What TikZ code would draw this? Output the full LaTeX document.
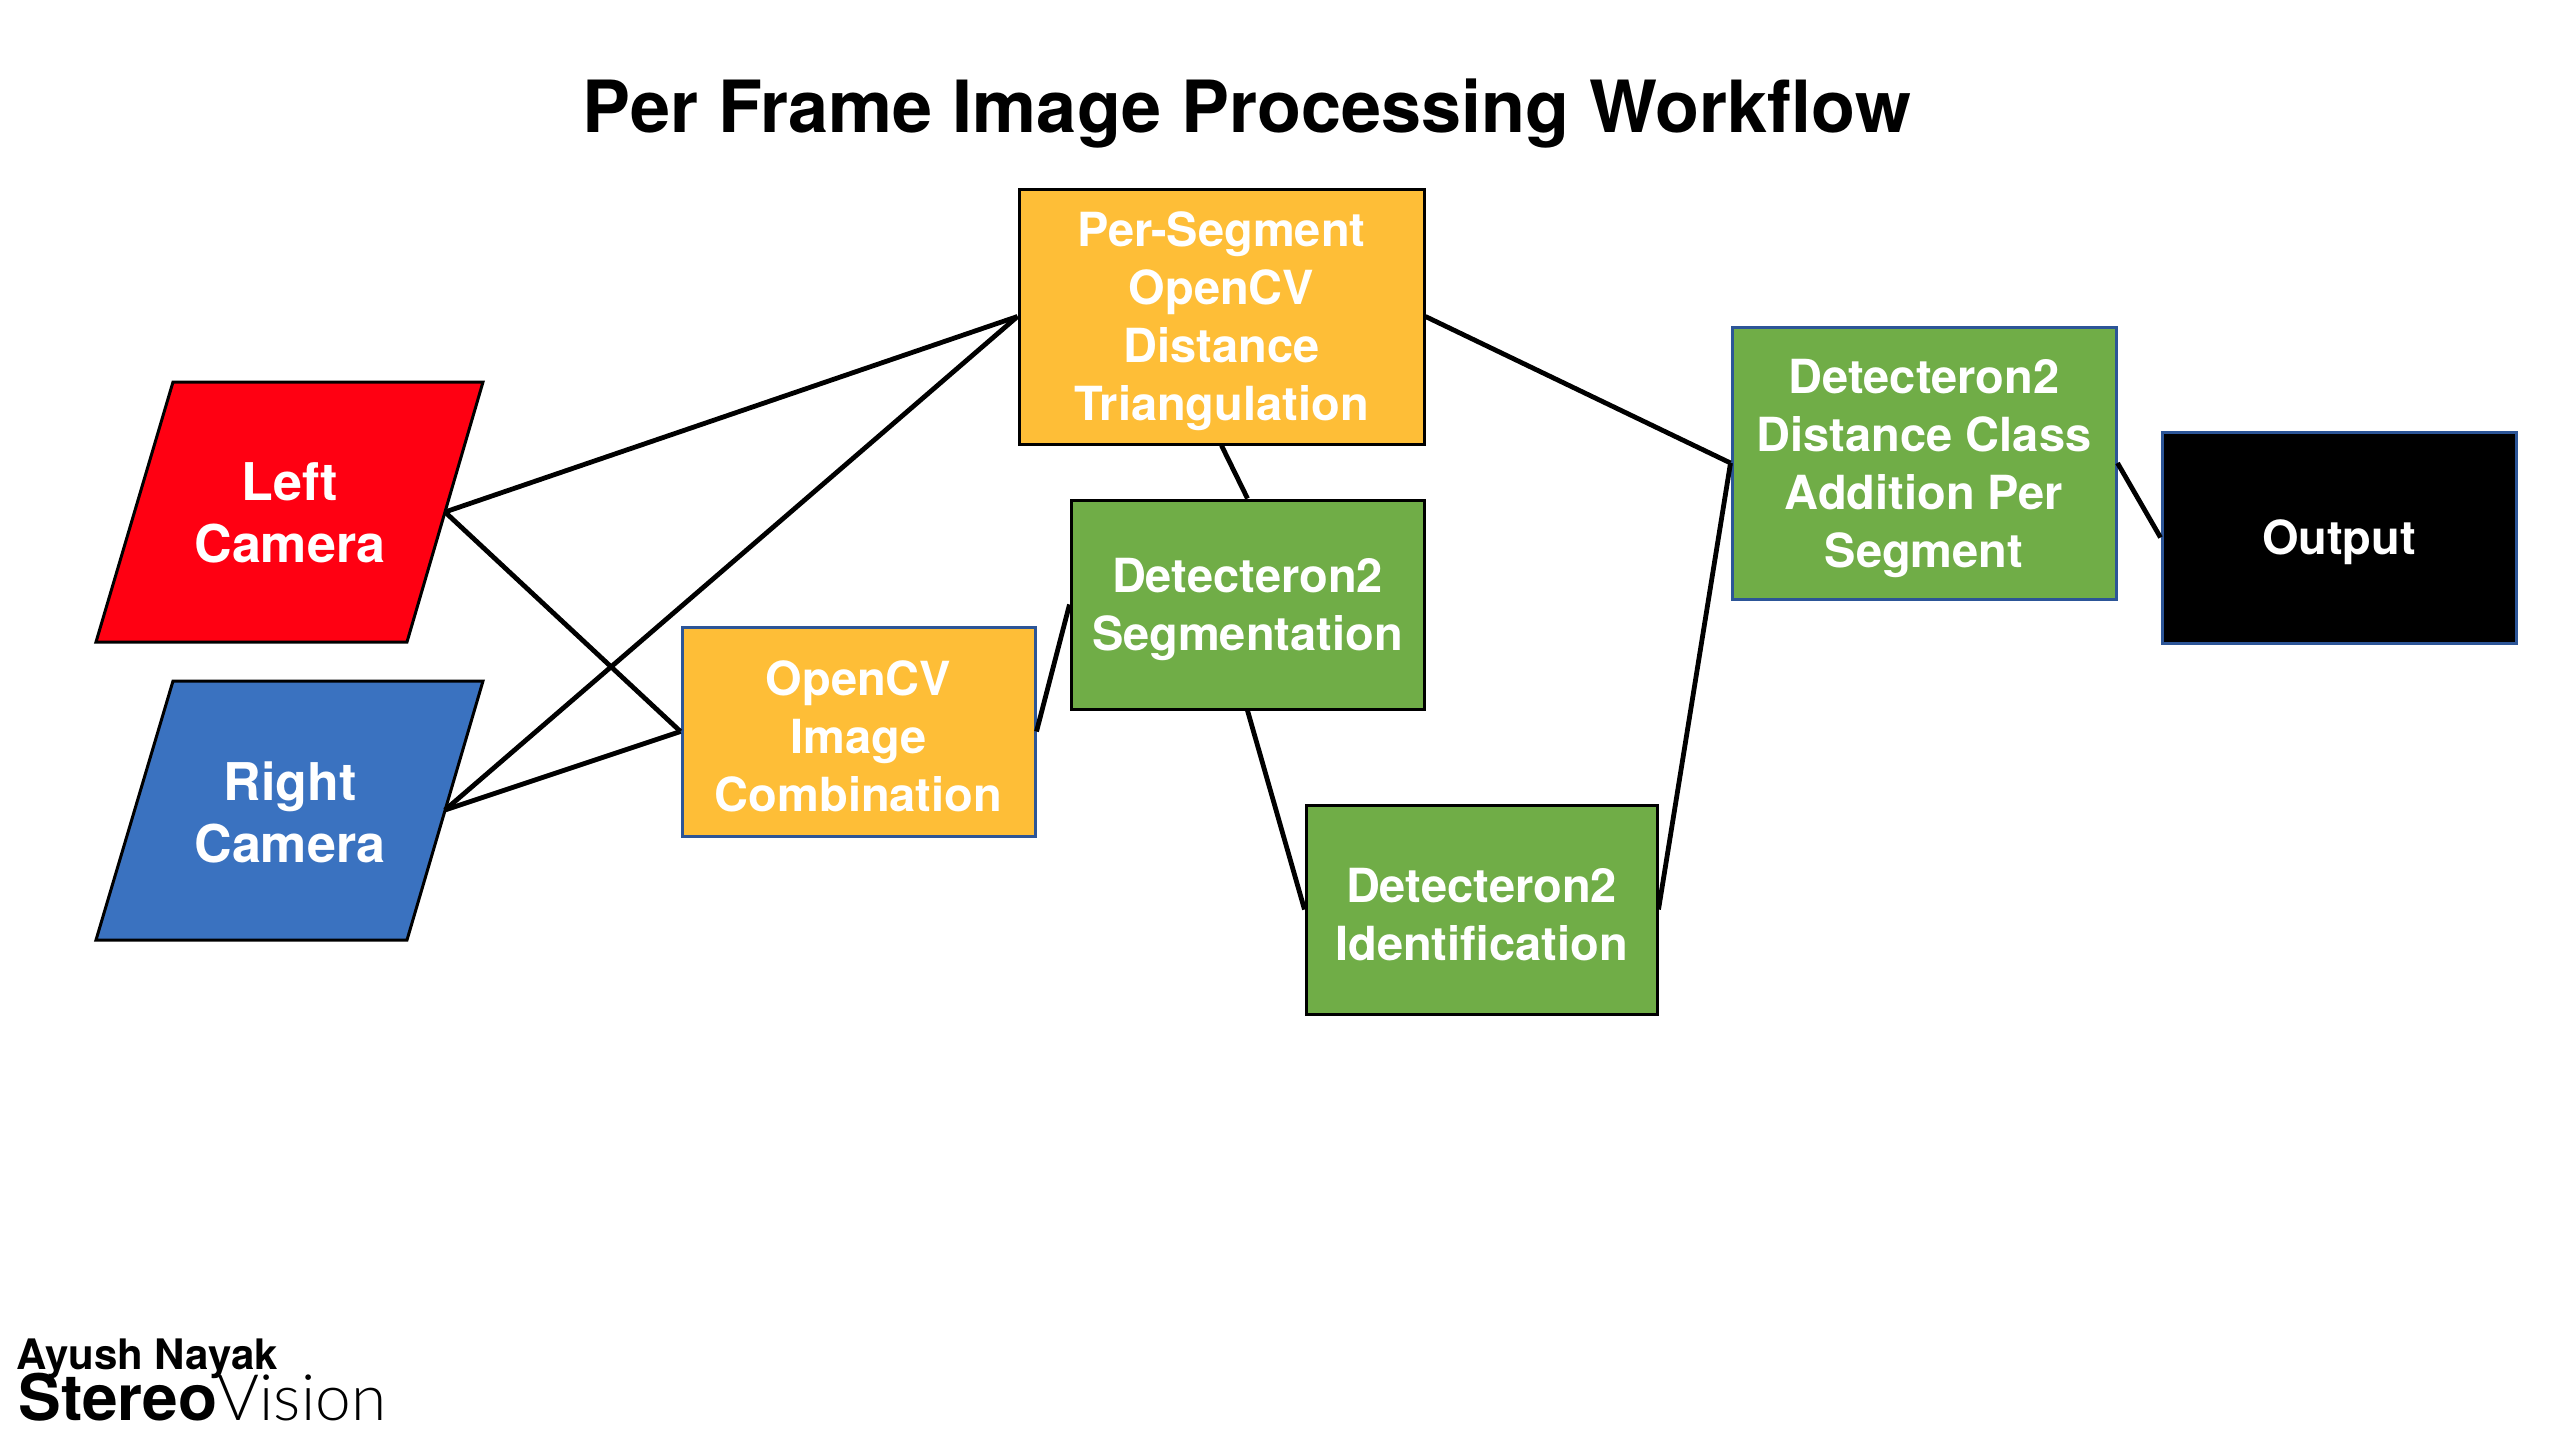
\documentclass[tikz,border=0pt]{standalone}
\usepackage{fontspec}
\setmainfont{TeX Gyre Heros}
\IfFontExistsTF{Lato Light}{\newfontfamily\thinfont{Lato Light}}{\newfontfamily\thinfont{TeX Gyre Heros}}
\definecolor{camred}{HTML}{FF0012}
\definecolor{camblue}{HTML}{3A72C0}
\definecolor{boxorange}{HTML}{FEBE37}
\definecolor{boxgreen}{HTML}{70AD47}
\definecolor{edgeblue}{HTML}{2C5597}
\newcommand\toppad{\rule{0pt}{22.5pt}}
\tikzset{
  sz/.style 2 args={minimum width=#1*0.5pt, minimum height=#2*0.5pt},
  stagebox/.style={draw, line width=1.5pt, inner sep=0pt, align=center, text=white,
    font=\bfseries\fontsize{23.5}{29}\selectfont},
  camtext/.style={align=center, text=white, inner sep=0pt,
    font=\bfseries\fontsize{26}{31}\selectfont},
  cambox/.style={draw=black, line width=1.5pt, line join=miter},
  link/.style={draw=black, line width=2.4pt}
}
\begin{document}
\begin{tikzpicture}[x=0.5pt,y=-0.5pt]
\useasboundingbox (0,0) rectangle (2560,1440);

% title
\node[anchor=base, inner sep=0pt, font=\bfseries\fontsize{36}{43}\selectfont] (title) at (1247,132) {Per Frame Image Processing Workflow};

% cameras
\path[cambox, fill=camred] (173,382) -- (483,382) -- (407,642) -- (96,642) -- cycle;
\node[camtext] (left) at (290,513) {Left\\Camera};
\coordinate (lce) at (445,512);
\path[cambox, fill=camblue] (173,681) -- (483,681) -- (407,940) -- (96,940) -- cycle;
\node[camtext] (right) at (290,812) {Right\\Camera};
\coordinate (rce) at (445,810);

% processing boxes
\node[stagebox, fill=boxorange, draw=black, sz={405}{255}] (ps) at (1221.5,316.5) {\toppad Per-Segment\\OpenCV\\Distance\\Triangulation};
\node[stagebox, fill=boxgreen, draw=black, sz={353}{209}] (seg) at (1247.5,604.5) {\toppad Detecteron2\\Segmentation};
\node[stagebox, fill=boxgreen, draw=black, sz={351}{209}] (id) at (1481.5,909.5) {\toppad Detecteron2\\Identification};
\node[stagebox, fill=boxorange, draw=edgeblue, sz={353}{209}] (comb) at (858.5,731.5) {\toppad OpenCV\\Image\\Combination};
\node[stagebox, fill=boxgreen, draw=edgeblue, sz={384}{272}] (dist) at (1924,463) {\toppad Detecteron2\\Distance Class\\Addition Per\\Segment};
\node[stagebox, fill=black, draw=edgeblue, sz={354}{211}] (out) at (2339,537.5) {\toppad Output};

% connectors
\draw[link] (lce) -- (ps.west);
\draw[link] (lce) -- (comb.west);
\draw[link] (rce) -- (ps.west);
\draw[link] (rce) -- (comb.west);
\draw[link] (ps.south) -- (seg.north);
\draw[link] (comb.east) -- (seg.west);
\draw[link] (seg.south) -- (id.west);
\draw[link] (id.east) -- (dist.west);
\draw[link] (ps.east) -- (dist.west);
\draw[link] (dist.east) -- (out.west);

% footer
\node[anchor=base west, inner sep=0pt, font=\bfseries\fontsize{21}{25}\selectfont] (author) at (16,1369) {Ayush Nayak};
\node[anchor=base west, inner sep=0pt, font=\fontsize{32}{38}\selectfont] (brand) at (18,1420) {{\bfseries Stereo}{\thinfont Vision}};
\end{tikzpicture}
\end{document}
